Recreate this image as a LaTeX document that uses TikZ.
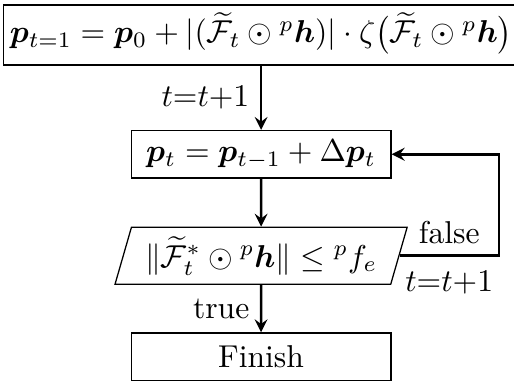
\documentclass[tikz,border=0pt]{standalone}
\usepackage{amsmath,amssymb,bm}
\usetikzlibrary{positioning,shapes.geometric}

\tikzset{
    block/.style={draw, rectangle, minimum width=82.2pt, minimum height=15pt, inner sep=2pt},
    decision/.style={draw, trapezium, trapezium left angle=70, trapezium right angle=110,
        trapezium stretches body, minimum width=92.4pt, minimum height=18pt, inner sep=1pt},
    flow/.style={-stealth, thick},
}

\begin{document}
\begin{tikzpicture}
    \useasboundingbox (0,0) rectangle (162.6pt,-120.8pt);

    \node[block, minimum width=160.7pt, text height=10pt, text depth=5pt, inner ysep=2pt] (init) at (82.6pt,-11.1pt)
        {$\bm{p}_{t=1} = \bm{p}_0 + |(\widetilde{\mathcal{F}}_t \odot {}^{p}\bm{h})| \cdot \zeta\big(\widetilde{\mathcal{F}}_t \odot {}^{p}\bm{h}\big)$};
    \node[block, below=20.3pt of init] (update) {$\bm{p}_t = \bm{p}_{t-1} + \Delta\bm{p}_t$};
    \node[decision, below=15.2pt of update] (check)
        {$\|\widetilde{\mathcal{F}}_t^{*} \odot {}^{p}\bm{h}\| \leq {}^{p}f_e$};
    \node[block, below=15pt of check] (finish) {Finish};

    \coordinate (loop) at (157.8pt,0);

    \draw[flow] (init) -- node[left] {$t{=}t{+}1$} (update);
    \draw[flow] (update) -- (check);
    \draw[flow] (check) -- node[left] {true} (finish);
    \draw[flow] (check.east) -- node[above] {false} node[below=1pt] {$t{=}t{+}1$}
        (check.east -| loop) |- (update.east);
\end{tikzpicture}
\end{document}
